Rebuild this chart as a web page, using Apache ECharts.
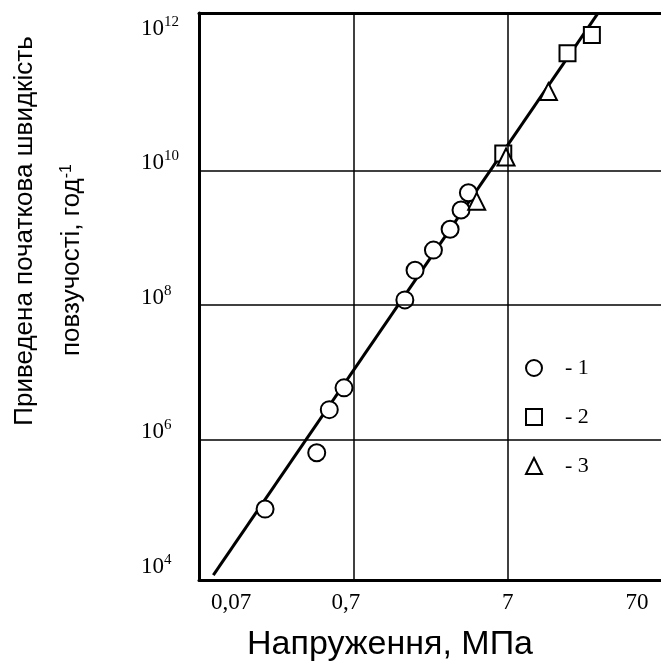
<!DOCTYPE html>
<html>
<head>
<meta charset="utf-8">
<script src="https://cdn.jsdelivr.net/npm/echarts@6/dist/echarts.min.js"></script>
<style>
html,body{margin:0;padding:0;background:#fff;}
#chart{width:661px;height:662px;}
</style>
</head>
<body>
<div id="chart"></div>
<script>
// ---- data (stress in MPa, reduced initial creep rate in 1/h) ----
const xTickValues = [0.07, 0.7, 7, 70];
const xTickLabels = ['0,07', '0,7', '7', '70'];
const yTickExponents = [4, 6, 8, 10, 12];
const xGridValues = [0.7, 7];
const yGridExponents = [6, 8, 10];

const series1Stress = [0.188, 0.407, 0.491, 0.612, 1.52, 1.77, 2.33, 2.99, 3.52, 3.93];
const series1Rate   = [9.3e4, 6.4e5, 2.8e6, 5.9e6, 1.2e8, 3.3e8, 6.6e8, 1.35e9, 2.6e9, 4.7e9];
const series2Stress = [6.62, 17.3, 24.9];
const series2Rate   = [1.8e10, 5.6e11, 1.04e12];
const series3Stress = [4.45, 6.9, 13.0];
const series3Rate   = [3.5e9, 1.6e10, 1.5e11];
const fitStress = [0.0867, 27.3];
const fitRate   = [9.7e3, 2.2e12];

const seriesNames = ['1', '2', '3'];
const xTitle = 'Напруження, МПа';
const yTitle1 = 'Приведена початкова швидкість';
const yTitle2 = 'повзучості, год';

// ---- helpers ----
const lg = Math.log10;
function pairs(xs, ys) { return xs.map((x, i) => [lg(x), lg(ys[i])]); }

const serif = '"Liberation Serif", "Times New Roman", serif';
const sans = '"Liberation Sans", Arial, sans-serif';

const xRich = {
  n0: { fontFamily: serif, fontSize: 23, color: '#000', padding: [0, 0, 0, 64] },
  n1: { fontFamily: serif, fontSize: 23, color: '#000', padding: [0, 16, 0, 0] },
  n2: { fontFamily: serif, fontSize: 23, color: '#000' },
  n3: { fontFamily: serif, fontSize: 23, color: '#000', padding: [0, 48, 0, 0] }
};

const chart = echarts.init(document.getElementById('chart'), null, { renderer: 'canvas' });

const markerStyle = { color: '#fff', borderColor: '#000', borderWidth: 2, opacity: 1 };

const option = {
  animation: false,
  backgroundColor: '#fff',
  grid: { left: 199, right: 0, top: 13, bottom: 82, containLabel: false },
  xAxis: [{
    type: 'value',
    min: lg(xTickValues[0]),
    max: lg(xTickValues[xTickValues.length - 1]),
    interval: 1,
    axisLine: { show: true, onZero: false, lineStyle: { color: '#000', width: 3 } },
    axisTick: { show: false },
    splitLine: { show: false },
    axisLabel: {
      show: true, margin: 11, showMinLabel: true, showMaxLabel: true,
      formatter: function (v) {
        for (let i = 0; i < xTickValues.length; i++) {
          if (Math.abs(lg(xTickValues[i]) - v) < 0.02) return '{n' + i + '|' + xTickLabels[i] + '}';
        }
        return '';
      },
      rich: xRich
    }
  }, {
    type: 'value', position: 'top',
    min: lg(xTickValues[0]),
    max: lg(xTickValues[xTickValues.length - 1]),
    axisLine: { show: true, onZero: false, lineStyle: { color: '#000', width: 3 } },
    axisTick: { show: false }, axisLabel: { show: false }, splitLine: { show: false }
  }],
  yAxis: {
    type: 'value',
    min: 3.914,
    max: 12.345,
    axisLine: { show: true, onZero: false, lineStyle: { color: '#000', width: 3 } },
    axisTick: { show: false },
    splitLine: { show: false },
    axisLabel: {
      show: true, align: 'left', margin: 58, verticalAlign: 'middle',
      padding: [0, 0, 14, 0],
      showMinLabel: false, showMaxLabel: false,
      formatter: function (v) {
        const r = Math.round(v);
        if (Math.abs(v - r) < 1e-6 && yTickExponents.indexOf(r) >= 0) return '{b|10}{s|' + r + '}';
        return '';
      },
      rich: {
        b: { fontFamily: serif, fontSize: 23, color: '#000', lineHeight: 22, verticalAlign: 'bottom' },
        s: { fontFamily: serif, fontSize: 15, color: '#000', verticalAlign: 'bottom', lineHeight: 15, padding: [0, 0, 11, 0] }
      }
    }
  },
  legend: {
    orient: 'vertical', left: 520, top: 352,
    itemWidth: 16, itemHeight: 16, itemGap: 27,
    data: seriesNames,
    formatter: '- {name}',
    itemStyle: { opacity: 1 },
    textStyle: { fontFamily: serif, fontSize: 22, color: '#000', lineHeight: 20, padding: [0, 0, 0, 18] }
  },
  graphic: [
    { type: 'text', x: 25, y: 231, rotation: Math.PI / 2,
      style: { text: yTitle1, fontFamily: sans, fontSize: 26, fill: '#000', align: 'center', verticalAlign: 'middle' } },
    { type: 'text', x: 72, y: 260, rotation: Math.PI / 2,
      style: { text: '{a|' + yTitle2 + '}{s|-1}', fill: '#000', align: 'center', verticalAlign: 'middle',
        rich: { a: { fontFamily: sans, fontSize: 26, fill: '#000' },
                s: { fontFamily: sans, fontSize: 16, fill: '#000', verticalAlign: 'top' } } } },
    { type: 'text', x: 390, y: 645,
      style: { text: xTitle, fontFamily: sans, fontSize: 34, fill: '#000', align: 'center', verticalAlign: 'middle' } }
  ],
  series: [
    {
      name: 'grid', type: 'line', data: [], z: 1, silent: true,
      markLine: {
        silent: true, symbol: 'none', label: { show: false }, animation: false,
        lineStyle: { color: '#000', width: 1.5, type: 'solid', opacity: 1 },
        data: xGridValues.map(v => ({ xAxis: lg(v) })).concat(yGridExponents.map(e => ({ yAxis: e })))
      }
    },
    {
      name: 'fit', type: 'line', data: pairs(fitStress, fitRate), z: 2, silent: true,
      showSymbol: false, symbol: 'none',
      lineStyle: { color: '#000', width: 3 }
    },
    { name: seriesNames[0], type: 'scatter', symbol: 'circle', symbolSize: 17, z: 3,
      itemStyle: markerStyle, data: pairs(series1Stress, series1Rate) },
    { name: seriesNames[1], type: 'scatter', symbol: 'rect', symbolSize: 16, z: 3,
      itemStyle: markerStyle, data: pairs(series2Stress, series2Rate) },
    { name: seriesNames[2], type: 'scatter', symbol: 'triangle', symbolSize: 17, z: 3,
      itemStyle: markerStyle, data: pairs(series3Stress, series3Rate) }
  ]
};
chart.setOption(option);
</script>
</body>
</html>
